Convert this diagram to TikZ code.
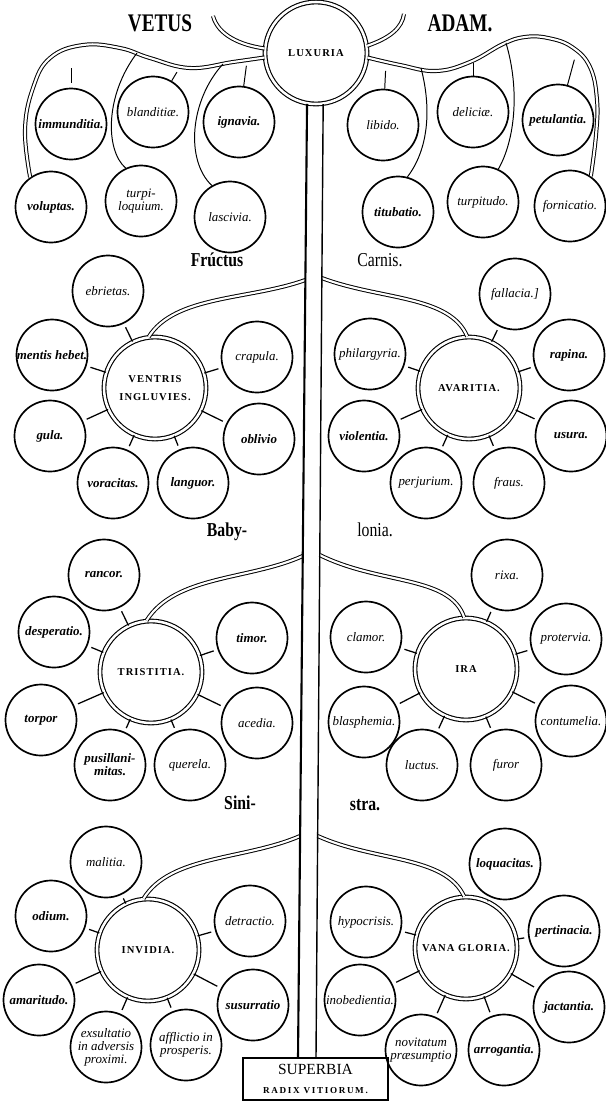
\documentclass[tikz,border=0pt]{standalone}
\usepackage{fontspec}
\setmainfont{Liberation Serif}
\newcommand{\cond}[1]{\scalebox{0.8}[1]{#1}}
\newcommand{\tallbf}[1]{\scalebox{0.76}[1]{\fontsize{18}{18}\selectfont\bfseries #1}}
\tikzset{
  vice/.style={draw, circle, line width=1.2pt, minimum size=17.75mm, inner sep=0pt, align=center,
    font=\fontsize{9.2}{9.2}\selectfont\itshape},
  heavy/.style={font=\fontsize{9.2}{9.2}\selectfont\bfseries\itshape},
  root/.style={draw, circle, line width=0.8pt, double, double distance=1.8pt, minimum size=25.5mm,
    inner sep=0pt, align=center, font=\fontsize{7.5}{12.5}\selectfont\bfseries\addfontfeature{LetterSpace=10}},
  branch/.style={line width=0.7pt, double, double distance=1.5pt},
  stem/.style={line width=0.7pt},
  tick/.style={line width=0.9pt, shorten >=1mm},
  word/.style={font=\fontsize{14}{14}\selectfont},
}
\begin{document}
\begin{tikzpicture}[x=0.25mm, y=-0.25mm]
\useasboundingbox (0,0) rectangle (606,1103);

\node (vetus) at (160,23) {\tallbf{VETUS}};
\node (adam) at (460,23) {\tallbf{ADAM.}};
\node[word] (fru) at (217,260) {\cond{\bfseries Frúctus}};
\node[word] (car) at (380,260) {\cond{Carnis.}};
\node[word] (baby) at (227,532) {\cond{\bfseries Baby-}};
\node[word] (lon) at (375,530) {\cond{lonia.}};
\node[word] (sini) at (240,803) {\cond{\bfseries Sini-}};
\node[word] (stra) at (365,805) {\cond{\bfseries stra.}};

\node[root] (lux) at (316,53) {LUXURIA};
\node[vice, heavy] (imm) at (71,124) {immunditia.};
\node[vice] (bland) at (153,112) {blanditiæ.};
\node[vice, heavy] (ign) at (239,122) {ignavia.};
\node[vice] (lib) at (383,125) {libido.};
\node[vice] (delic) at (473,112) {deliciæ.};
\node[vice, heavy] (petul) at (558,120) {petulantia.};
\node[vice, heavy] (volup) at (51,207) {voluptas.};
\node[vice] (turpil) at (141,201) {turpi-\\loquium.};
\node[vice] (lasc) at (230,217) {lascivia.};
\node[vice, heavy] (titub) at (398,212) {titubatio.};
\node[vice] (turpit) at (483,202) {turpitudo.};
\node[vice] (fornic) at (570,206) {fornicatio.};

\node[root] (vent) at (155,388) {VENTRIS\\INGLUVIES.};
\node[vice] (ebr) at (108,291) {ebrietas.};
\node[vice, heavy] (ment) at (52,355) {mentis hebet.};
\node[vice] (crap) at (257,357) {crapula.};
\node[vice, heavy] (gula) at (50,436) {gula.};
\node[vice, heavy] (obliv) at (259,439) {oblivio};
\node[vice, heavy] (vorac) at (113,483) {voracitas.};
\node[vice, heavy] (lang) at (193,483) {languor.};

\node[root] (ava) at (469,388) {AVARITIA.};
\node[vice] (fall) at (515,294) {fallacia.]};
\node[vice, heavy] (rap) at (569,355) {rapina.};
\node[vice] (phil) at (370,354) {philargyria.};
\node[vice, heavy] (viol) at (364,436) {violentia.};
\node[vice, heavy] (usura) at (571,436) {usura.};
\node[vice] (perj) at (426,483) {perjurium.};
\node[vice] (fraus) at (509,483) {fraus.};

\node[root] (trist) at (151,672) {TRISTITIA.};
\node[vice, heavy] (ranc) at (104,575) {rancor.};
\node[vice, heavy] (desp) at (54,632) {desperatio.};
\node[vice, heavy] (timor) at (252,638) {timor.};
\node[vice, heavy] (torp) at (41,720) {torpor};
\node[vice] (aced) at (257,723) {acedia.};
\node[vice, heavy] (pusil) at (110,765) {pusillani-\\mitas.};
\node[vice] (quer) at (190,765) {querela.};

\node[root] (ira) at (466,669) {IRA};
\node[vice] (rixa) at (507,575) {rixa.};
\node[vice] (clam) at (366,637) {clamor.};
\node[vice] (prot) at (566,639) {protervia.};
\node[vice] (blas) at (364,722) {blasphemia.};
\node[vice] (contum) at (571,721) {contumelia.};
\node[vice] (luct) at (422,765) {luctus.};
\node[vice] (furor) at (506,765) {furor};

\node[root] (inv) at (148,950) {INVIDIA.};
\node[vice] (mal) at (106,862) {malitia.};
\node[vice, heavy] (odium) at (51,916) {odium.};
\node[vice] (detr) at (250,921) {detractio.};
\node[vice, heavy] (amar) at (39,1000) {amaritudo.};
\node[vice, heavy] (susur) at (253,1005) {susurratio};
\node[vice] (exsul) at (106,1047) {exsultatio\\in adversis\\proximi.};
\node[vice] (afflic) at (186,1045) {afflictio in\\prosperis.};

\node[root] (vg) at (466,948) {VANA GLORIA.};
\node[vice, heavy] (loq) at (505,864) {loquacitas.};
\node[vice] (hypo) at (366,922) {hypocrisis.};
\node[vice, heavy] (pert) at (564,931) {pertinacia.};
\node[vice] (inob) at (360,1000) {inobedientia.};
\node[vice, heavy] (jact) at (569,1007) {jactantia.};
\node[vice] (novit) at (421,1050) {novitatum\\præsumptio};
\node[vice, heavy] (arrog) at (504,1050) {arrogantia.};

\node[draw, line width=1pt, minimum width=36.25mm, minimum height=10.5mm, inner sep=0pt, align=center,
  font=\fontsize{11}{12}\selectfont] (sup) at (315.5,1079)
  {SUPERBIA\\[1pt]{\fontsize{6.5}{7}\selectfont\bfseries\addfontfeature{LetterSpace=18}RADIX VITIORUM.}};

\coordinate (hornL) at (213,16);
\coordinate (hornR) at (404,14);
\coordinate (tl1) at (137,53);
\coordinate (tl2) at (223,64);
\coordinate (ti1) at (71,48);
\coordinate (tb1) at (180,67);
\coordinate (tg1) at (247,61);
\coordinate (ri1) at (386,62);
\coordinate (rt1) at (421,68);
\coordinate (rd1) at (473,61);
\coordinate (rt2) at (506,43);
\coordinate (rp1) at (577,50);
\coordinate (g1) at (305.3,280);
\coordinate (g2) at (321.7,278);
\coordinate (g3) at (302.7,556);
\coordinate (g4) at (319.7,555);
\coordinate (g5) at (300.1,836);
\coordinate (g6) at (317.6,836);
\coordinate (tL) at (298,1058);
\coordinate (tR) at (316,1058);

\draw[branch] plot[smooth, tension=0.7] coordinates {(lux.185) (233,62) (190,68) (150,58) (120,48) (83,45) (50,58) (33,88) (25,130) (volup.125)};
\draw[branch] plot[smooth, tension=0.7] coordinates {(lux.355) (400,65) (436,71) (470,62) (503,44) (525,37) (548,38) (572,47) (590,67) (597,100) (596,135) (fornic.55)};
\draw[branch] (lux.175) .. controls (240,45) and (218,35) .. (hornL);
\draw[branch] (lux.8) .. controls (390,38) and (402,28) .. (hornR);

\draw[stem, shorten <=5mm, shorten >=1.2mm] (ti1) -- (imm);
\draw[stem, shorten <=1.5mm] (tb1) -- (bland);
\draw[stem, shorten <=1.2mm] (tg1) -- (ign);
\draw[stem] (tl1) .. controls (105,95) and (105,150) .. (turpil.115);
\draw[stem] (tl2) .. controls (190,100) and (185,160) .. (lasc.120);
\draw[stem, shorten <=2.2mm] (ri1) -- (lib);
\draw[stem, shorten <=0.5mm] (rd1) -- (delic);
\draw[stem, shorten <=2.5mm] (rp1) -- (petul);
\draw[stem] (rt1) .. controls (432,110) and (428,150) .. (titub.75);
\draw[stem] (rt2) .. controls (520,90) and (515,140) .. (turpit.65);

\draw[branch] (g1) .. controls (250,300) and (175,295) .. (vent.97);
\draw[branch] (g2) .. controls (380,300) and (450,295) .. (ava.92);
\draw[branch] (g3) .. controls (250,580) and (175,575) .. (trist.95);
\draw[branch] (g4) .. controls (380,585) and (450,575) .. (ira.92);
\draw[branch] (g5) .. controls (245,860) and (170,855) .. (inv.95);
\draw[branch] (g6) .. controls (375,862) and (445,855) .. (vg.92);

\draw[line width=1.5pt] (lux.260) -- (tL);
\draw[line width=1pt] (lux.278) -- (tR);

\foreach \s in {ebr,ment,crap,gula,obliv,vorac,lang} \draw[tick] (vent) -- (\s);
\foreach \s in {fall,rap,phil,viol,usura,perj,fraus} \draw[tick] (ava) -- (\s);
\foreach \s in {ranc,desp,timor,torp,aced,pusil,quer} \draw[tick] (trist) -- (\s);
\foreach \s in {rixa,clam,prot,blas,contum,luct,furor} \draw[tick] (ira) -- (\s);
\foreach \s in {mal,odium,detr,amar,susur,exsul,afflic} \draw[tick] (inv) -- (\s);
\foreach \s in {loq,hypo,pert,inob,jact,novit,arrog} \draw[tick] (vg) -- (\s);
\end{tikzpicture}
\end{document}
